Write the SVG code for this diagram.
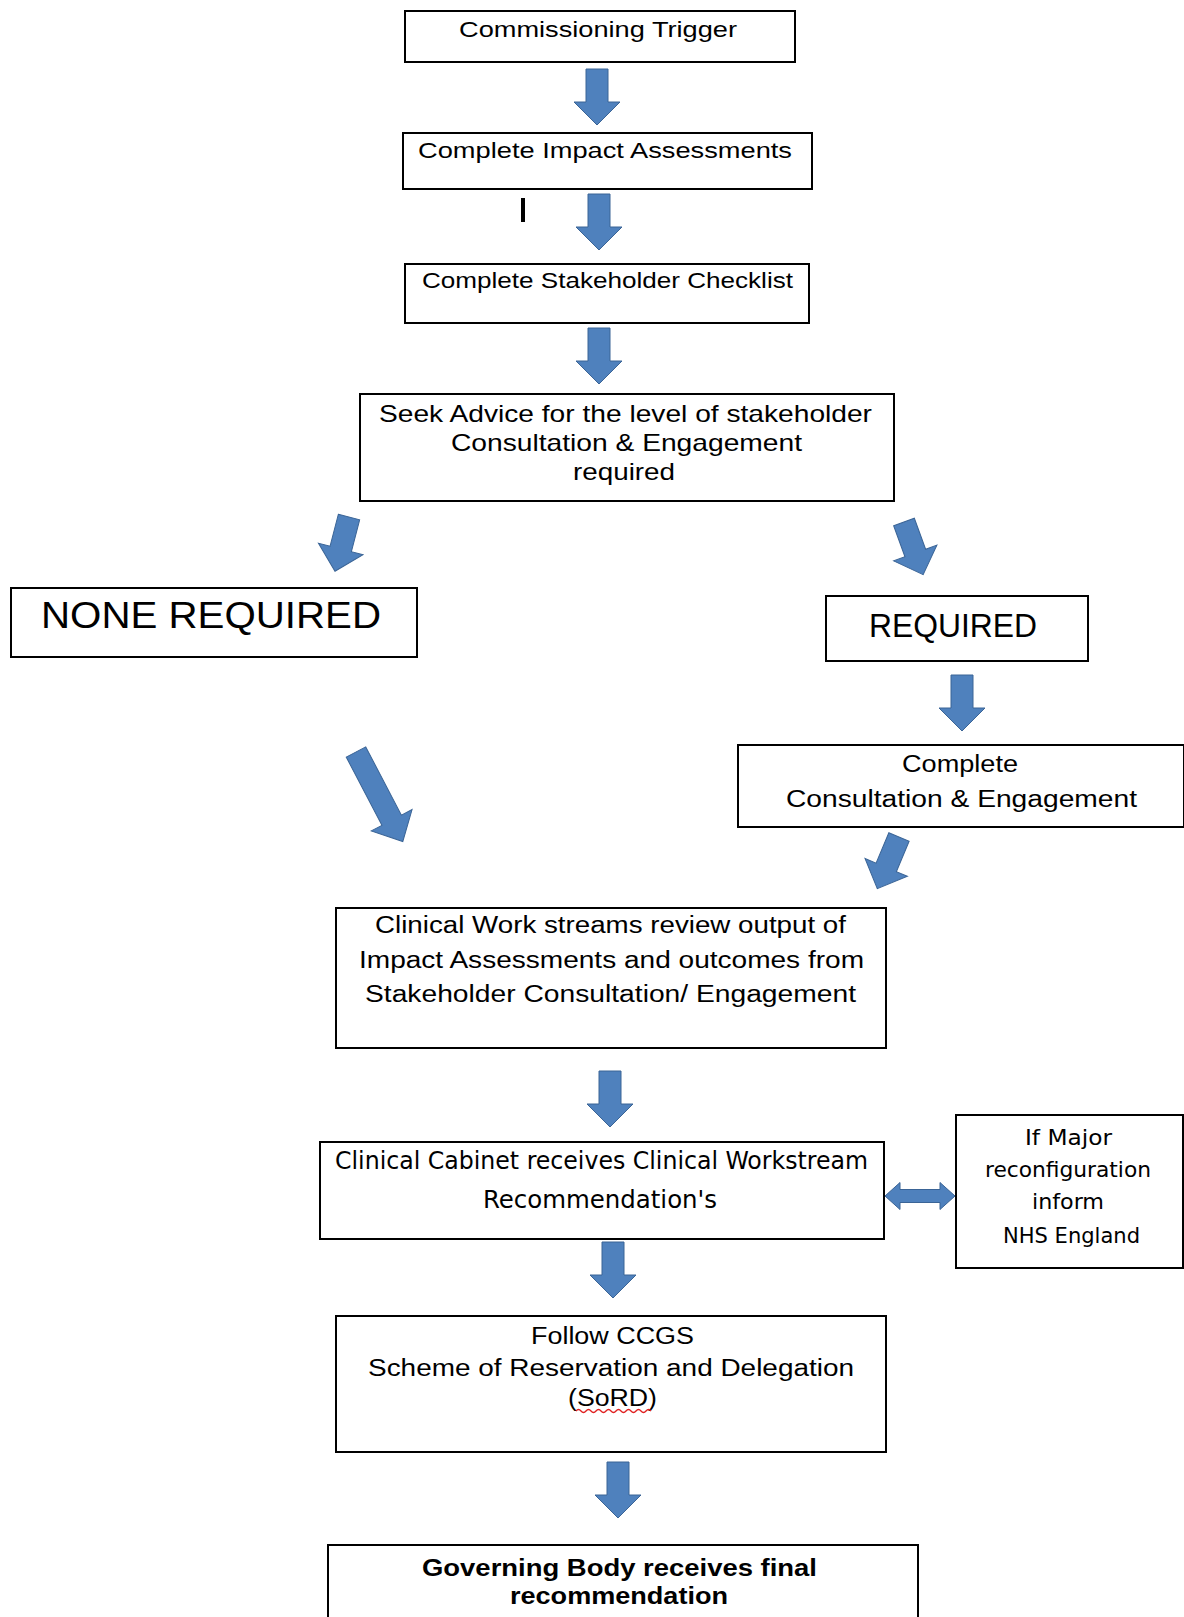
<svg xmlns="http://www.w3.org/2000/svg" xmlns:xlink="http://www.w3.org/1999/xlink" width="1184" height="1617" viewBox="0 0 1184 1617">
<style>
.box{fill:#fff;stroke:#000;stroke-width:2}
.t{font-family:"Liberation Sans",Arial,sans-serif;fill:#000}
.c{font-family:"DejaVu Sans Condensed","Liberation Sans Narrow","Liberation Sans",sans-serif;fill:#000}
.arr{fill:#4F81BD;stroke:#3A6496;stroke-width:1}
</style>
<defs>
<path id="a" d="M-11,0 H11 V33 H23 L0,56 L-23,33 H-11 Z"/>
<path id="al" d="M-11,0 H11 V77 H23 L0,101 L-23,77 H-11 Z"/>
</defs>
<rect width="1184" height="1617" fill="#fff"/>

<g id="n1"><rect class="box" x="405" y="11" width="390" height="51"/>
<text class="t" x="459" y="37" font-size="22" textLength="278" lengthAdjust="spacingAndGlyphs">Commissioning Trigger</text></g>

<g id="n2"><rect class="box" x="403" y="133" width="409" height="56"/>
<text class="t" x="418" y="158" font-size="22" textLength="374" lengthAdjust="spacingAndGlyphs">Complete Impact Assessments</text></g>

<g id="n3"><rect class="box" x="405" y="264" width="404" height="59"/>
<text class="t" x="422" y="288" font-size="22" textLength="371" lengthAdjust="spacingAndGlyphs">Complete Stakeholder Checklist</text></g>

<g id="n4"><rect class="box" x="360" y="394" width="534" height="107"/>
<text class="t" x="379" y="422" font-size="24" textLength="493" lengthAdjust="spacingAndGlyphs">Seek Advice for the level of stakeholder</text>
<text class="t" x="451" y="451" font-size="24" textLength="351" lengthAdjust="spacingAndGlyphs">Consultation &amp; Engagement</text>
<text class="t" x="573" y="480" font-size="24" textLength="102" lengthAdjust="spacingAndGlyphs">required</text></g>

<g id="n5"><rect class="box" x="11" y="588" width="406" height="69"/>
<text class="t" x="41" y="628" font-size="37" textLength="340" lengthAdjust="spacingAndGlyphs">NONE REQUIRED</text></g>

<g id="n6"><rect class="box" x="826" y="596" width="262" height="65"/>
<text class="t" x="869" y="637" font-size="33" textLength="168" lengthAdjust="spacingAndGlyphs">REQUIRED</text></g>

<g id="n7"><rect class="box" x="738" y="745" width="446" height="82"/>
<text class="t" x="902" y="772" font-size="23" textLength="116" lengthAdjust="spacingAndGlyphs">Complete</text>
<text class="t" x="786" y="807" font-size="23" textLength="351" lengthAdjust="spacingAndGlyphs">Consultation &amp; Engagement</text></g>

<g id="n8"><rect class="box" x="336" y="908" width="550" height="140"/>
<text class="t" x="375" y="933" font-size="23" textLength="471" lengthAdjust="spacingAndGlyphs">Clinical Work streams review output of</text>
<text class="t" x="359" y="968" font-size="23" textLength="505" lengthAdjust="spacingAndGlyphs">Impact Assessments and outcomes from</text>
<text class="t" x="365" y="1002" font-size="23" textLength="491" lengthAdjust="spacingAndGlyphs">Stakeholder Consultation/ Engagement</text></g>

<g id="n9"><rect class="box" x="320" y="1142" width="564" height="97"/>
<text class="c" x="335" y="1169" font-size="24" textLength="533" lengthAdjust="spacingAndGlyphs">Clinical Cabinet receives Clinical Workstream</text>
<text class="c" x="483" y="1208" font-size="24" textLength="234" lengthAdjust="spacingAndGlyphs">Recommendation's</text></g>

<g id="n10"><rect class="box" x="956" y="1115" width="227" height="153"/>
<text class="c" x="1025" y="1145" font-size="22" textLength="87" lengthAdjust="spacingAndGlyphs">If Major</text>
<text class="c" x="985" y="1177" font-size="22" textLength="166" lengthAdjust="spacingAndGlyphs">reconfiguration</text>
<text class="c" x="1032" y="1209" font-size="22" textLength="72" lengthAdjust="spacingAndGlyphs">inform</text>
<text class="c" x="1003" y="1243" font-size="21" textLength="137" lengthAdjust="spacingAndGlyphs">NHS England</text></g>

<g id="n11"><rect class="box" x="336" y="1316" width="550" height="136"/>
<text class="t" x="531" y="1344" font-size="23" textLength="163" lengthAdjust="spacingAndGlyphs">Follow CCGS</text>
<text class="t" x="368" y="1376" font-size="23" textLength="486" lengthAdjust="spacingAndGlyphs">Scheme of Reservation and Delegation</text>
<text class="t" x="568" y="1406" font-size="23" textLength="89" lengthAdjust="spacingAndGlyphs">(SoRD)</text>
<path d="M576,1411 q2.5,-3 5,0 t5,0 t5,0 t5,0 t5,0 t5,0 t5,0 t5,0 t5,0 t5,0 t5,0 t5,0 t5,0 t5,0 t5,0" fill="none" stroke="#e02020" stroke-width="1.3"/></g>

<g id="n12"><rect class="box" x="328" y="1545" width="590" height="90"/>
<text class="t" x="422" y="1576" font-size="23" font-weight="bold" textLength="395" lengthAdjust="spacingAndGlyphs">Governing Body receives final</text>
<text class="t" x="510" y="1604" font-size="23" font-weight="bold" textLength="218" lengthAdjust="spacingAndGlyphs">recommendation</text></g>

<rect id="mark" x="521" y="198" width="4" height="24" fill="#000"/>

<g id="connectors">
<use xlink:href="#a" class="arr" transform="translate(597,69)"/>
<use xlink:href="#a" class="arr" transform="translate(599,194)"/>
<use xlink:href="#a" class="arr" transform="translate(599,328)"/>
<use xlink:href="#a" class="arr" transform="translate(349,517) rotate(14.5)"/>
<use xlink:href="#a" class="arr" transform="translate(904,522) rotate(-20)"/>
<use xlink:href="#a" class="arr" transform="translate(962,675)"/>
<use xlink:href="#al" class="arr" transform="translate(356,752) rotate(-27.6)"/>
<use xlink:href="#a" class="arr" transform="translate(899,837) rotate(22.8)"/>
<use xlink:href="#a" class="arr" transform="translate(610,1071)"/>
<path class="arr" d="M885,1196 L900,1182.5 V1189.5 H940 V1182.5 L955,1196 L940,1209.5 V1202.5 H900 V1209.5 Z"/>
<use xlink:href="#a" class="arr" transform="translate(613,1242)"/>
<use xlink:href="#a" class="arr" transform="translate(618,1462)"/>
</g>
</svg>
